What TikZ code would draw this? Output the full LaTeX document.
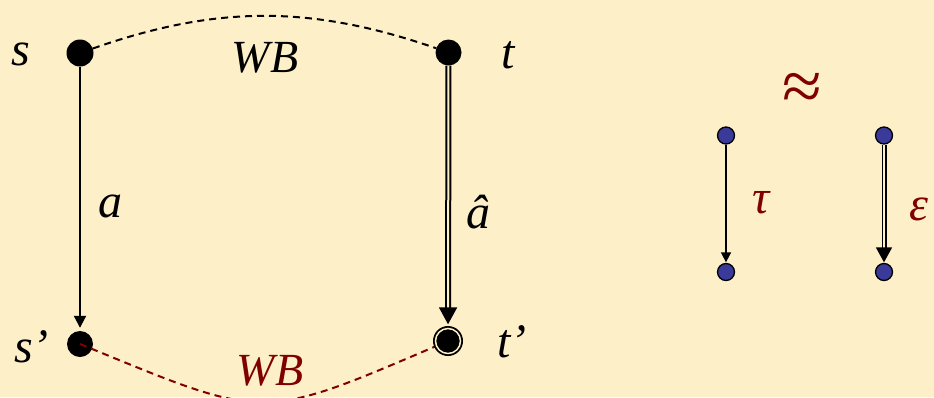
\documentclass[tikz,border=0pt]{standalone}
\usepackage{fontspec}
\setmainfont{Liberation Serif}
\usetikzlibrary{arrows.meta}
\definecolor{bg}{HTML}{FDEFC8}
\definecolor{wbred}{HTML}{800000}
\definecolor{dotblue}{HTML}{3A3A9A}
\tikzset{
  bigdot/.style={circle, fill=black, inner sep=0pt, minimum size=27pt},
  smalldot/.style={circle, fill=dotblue, draw=black, line width=1.3pt, inner sep=0pt, minimum size=17pt},
  lbl/.style={inner sep=0pt, anchor=base, font=\fontsize{48}{48}\selectfont\itshape},
  redlbl/.style={lbl, text=wbred},
  wbdash/.style={dash pattern=on 7pt off 5pt, line width=2pt},
  single/.style={line width=2pt, -{Triangle[length=12pt,width=12pt]}},
  dbl/.style={double=bg, double distance=2pt, line width=2pt, -{Triangle[length=17pt,width=18pt]}},
  tsingle/.style={line width=1.6pt, -{Triangle[length=10pt,width=10pt]}},
  tdbl/.style={double=bg, double distance=2pt, line width=1.5pt, -{Triangle[length=15pt,width=16pt]}},
}
\begin{document}
\begin{tikzpicture}[x=1pt,y=-1pt]
\fill[bg] (0,0) rectangle (934,397);
\useasboundingbox (0,0) rectangle (934,397);
% main nodes
\node[bigdot] (s) at (80,53) {};
\node[bigdot, minimum size=26pt] (t) at (448.5,52.5) {};
\node[bigdot, minimum size=26pt] (sp) at (80,344) {};
% top WB curve
\draw[wbdash] (s) .. controls (217,5) and (311,5) .. (t);
% bottom WB curve
\draw[wbdash, wbred] (sp.center) .. controls (270,422) and (258,422) .. (448,341);
\node[bigdot, minimum size=30pt] (tp) at (448,341) {};
\draw[bg, line width=1.5pt] (tp.center) circle (12.5pt);
% transitions
\draw[single, shorten >=3pt] (s) -- (sp);
\draw[dbl, shorten >=1.5pt] (t) -- (tp);
% labels
\node[lbl] (ls) at (21,65) {s};
\node[lbl] (lt) at (508,68) {t};
\node[lbl] (lsp) at (31.5,362) {s’};
\node[lbl] (ltp) at (512,357) {t’};
\node[lbl] (la) at (110,217) {a};
\node[lbl] (lah) at (478,228) {\^a};
\node[lbl, font=\fontsize{46}{46}\selectfont\itshape] (wb1) at (265,72) {WB};
\node[redlbl, font=\fontsize{46}{46}\selectfont\itshape] (wb2) at (270,385) {WB};
% right side
\node[redlbl, font=\fontsize{72}{72}\selectfont] (approx) at (802,110) {≈};
\node[smalldot] (a1) at (726,135.5) {};
\node[smalldot] (a2) at (726,272) {};
\node[smalldot] (b1) at (884,135.5) {};
\node[smalldot] (b2) at (884,272) {};
\draw[tsingle, shorten >=0.5pt] (a1) -- (a2);
\draw[tdbl, shorten >=0.5pt] (b1) -- (b2);
\node[redlbl] (tau) at (761,213) {τ};
\node[redlbl] (eps) at (919,220) {ε};
\end{tikzpicture}
\end{document}
